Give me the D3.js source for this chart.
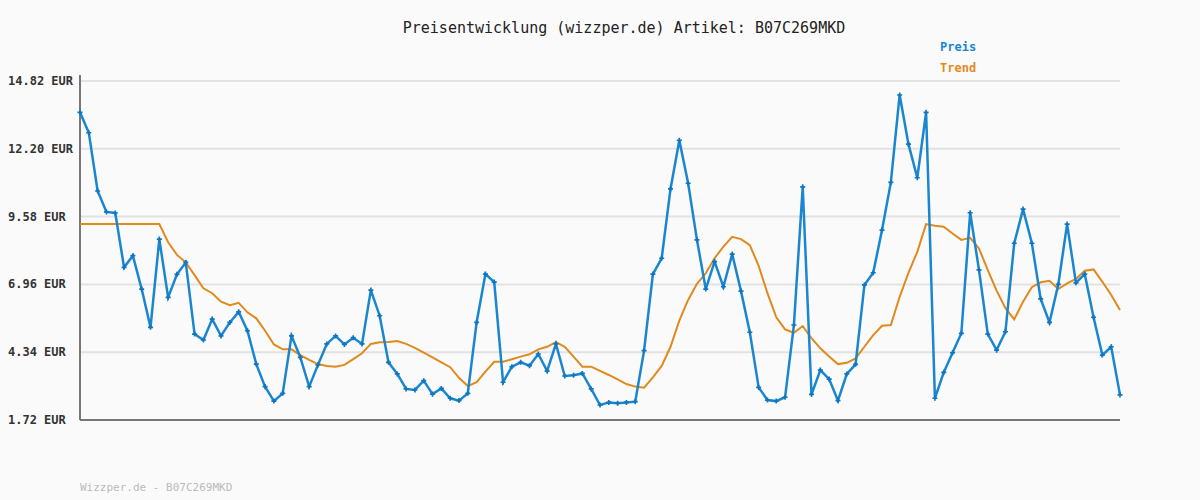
<!DOCTYPE html>
<html><head><meta charset="utf-8">
<script src="https://cdn.jsdelivr.net/npm/d3@7"></script>
<style>
body { margin: 0; background: #fafafa; }
svg { font-family: "DejaVu Sans Mono", monospace; }
.grid line { stroke: #e2e2e2; stroke-width: 2; }
.axis-line { stroke: #777; stroke-width: 2; }
.tick-label { font-size: 12px; font-weight: bold; fill: #333; }
</style></head>
<body>
<script>
const yTicks = [1.72, 4.34, 6.96, 9.58, 12.20, 14.82];

const preis = [13.61,12.82,10.57,9.76,9.72,7.62,8.07,6.78,5.30,8.71,
  6.46,7.35,7.81,5.04,4.81,5.62,4.97,5.49,5.90,5.17,
  3.88,3.01,2.45,2.75,4.97,4.14,3.01,3.85,4.66,4.97,
  4.64,4.90,4.66,6.74,5.75,3.95,3.50,2.92,2.88,3.24,
  2.72,2.94,2.56,2.47,2.75,5.49,7.36,7.05,3.18,3.78,
  3.95,3.82,4.27,3.61,4.66,3.42,3.45,3.52,2.92,2.30,
  2.40,2.37,2.40,2.43,4.40,7.36,7.97,10.65,12.53,10.87,
  8.68,6.78,7.84,6.87,8.13,6.70,5.11,2.98,2.49,2.45,
  2.60,5.39,10.73,2.71,3.65,3.30,2.47,3.50,3.87,6.94,
  7.41,9.06,10.90,14.28,12.38,11.08,13.61,2.56,3.56,4.32,
  5.07,9.73,7.52,5.04,4.42,5.13,8.55,9.87,8.55,6.40,
  5.49,6.96,9.29,7.02,7.36,5.69,4.23,4.55,2.69];

const trend = [9.29,9.29,9.29,9.29,9.29,9.29,9.29,9.29,9.29,9.29,
  8.59,8.10,7.81,7.32,6.81,6.62,6.29,6.16,6.25,5.88,
  5.65,5.17,4.64,4.45,4.45,4.23,4.04,3.88,3.81,3.78,
  3.85,4.07,4.30,4.66,4.72,4.73,4.77,4.66,4.51,4.32,
  4.14,3.95,3.76,3.35,3.03,3.18,3.59,3.97,3.97,4.07,
  4.17,4.26,4.45,4.55,4.73,4.55,4.17,3.78,3.78,3.62,
  3.46,3.29,3.11,3.01,2.97,3.37,3.81,4.55,5.56,6.36,
  6.98,7.39,7.97,8.42,8.80,8.71,8.48,7.68,6.62,5.69,
  5.22,5.09,5.35,4.88,4.49,4.17,3.88,3.93,4.10,4.55,
  5.00,5.36,5.39,6.48,7.41,8.22,9.29,9.23,9.19,8.93,
  8.68,8.76,8.35,7.51,6.72,6.04,5.61,6.29,6.85,7.04,
  7.10,6.78,7.00,7.17,7.49,7.54,7.06,6.55,5.97];

const svg = d3.select("body").append("svg").attr("width", 1200).attr("height", 500);
svg.append("rect").attr("width", 1200).attr("height", 500).attr("fill", "#fafafa");

const x = d3.scaleLinear().domain([0, preis.length - 1]).range([80, 1120]);
const y = d3.scaleLinear().domain([1.72, 14.82]).range([420, 81]);

svg.append("g").attr("class", "grid").selectAll("line").data(yTicks).enter().append("line")
  .attr("x1", 80).attr("x2", 1120).attr("y1", d => y(d)).attr("y2", d => y(d));

svg.selectAll(".tick-label").data(yTicks).enter().append("text")
  .attr("class", "tick-label").attr("x", 8).attr("y", d => y(d) + 4)
  .text(d => d.toFixed(2) + " EUR");

svg.append("line").attr("class", "axis-line").attr("x1", 80).attr("x2", 80).attr("y1", 75).attr("y2", 420);
svg.append("line").attr("class", "axis-line").attr("x1", 80).attr("x2", 1120).attr("y1", 420).attr("y2", 420);

const line = d3.line().x((d, i) => x(i)).y(d => y(d));
svg.append("path").datum(trend).attr("d", line).attr("fill", "none").attr("stroke", "#e08a1e").attr("stroke-width", 2);
svg.append("path").datum(preis).attr("d", line).attr("fill", "none").attr("stroke", "#1a86d0").attr("stroke-width", 2.5);
svg.selectAll(".pt").data(preis).enter().append("path").attr("class", "pt")
  .attr("transform", (d, i) => `translate(${x(i)},${y(d)})`)
  .attr("d", d3.symbol(d3.symbolCross, 14)).attr("fill", "#0f75c0");

svg.append("text").attr("x", 624).attr("y", 33).attr("text-anchor", "middle")
  .attr("font-size", 15).attr("fill", "#222").text("Preisentwicklung (wizzper.de) Artikel: B07C269MKD");
svg.append("text").attr("x", 940).attr("y", 51).attr("font-size", 12).attr("font-weight", "bold").attr("fill", "#1a86d0").text("Preis");
svg.append("text").attr("x", 940).attr("y", 72).attr("font-size", 12).attr("font-weight", "bold").attr("fill", "#e08a1e").text("Trend");
svg.append("text").attr("x", 80).attr("y", 491).attr("font-size", 11).attr("fill", "#bbb").text("Wizzper.de - B07C269MKD");
</script>
</body></html>
